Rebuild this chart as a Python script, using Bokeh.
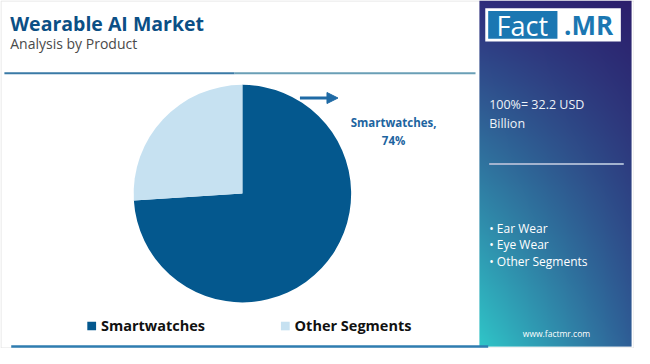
import numpy as np
from bokeh.plotting import figure
from bokeh.models import Range1d, ColumnDataSource, Arrow, NormalHead
from bokeh.core.properties import value
from bokeh.embed import file_html
from bokeh.resources import INLINE

# ---- data ----
title = "Wearable AI Market"
subtitle = "Analysis by Product"
categories = ["Smartwatches", "Other Segments"]
shares = [74, 26]
colors = ["#04588e", "#c6e1f1"]
total_text = ["100%= 32.2 USD", "Billion"]
other_items = ["Ear Wear", "Eye Wear", "Other Segments"]
site = "www.factmr.com"

W, H = 650, 364
def Y(y):
    return H - y

p = figure(width=634, height=348, x_range=Range1d(0, W), y_range=Range1d(0, H),
           output_backend="svg", toolbar_location=None, min_border=0)
p.axis.visible = False
p.grid.visible = False
p.outline_line_color = None
p.background_fill_color = "white"
p.border_fill_color = "white"

FONT = value("Open Sans")

# faint frame
p.quad(left=[0.5], right=[649.5], bottom=[Y(363.5)], top=[Y(0.5)],
       fill_color=None, line_color="#e2e2e2", line_width=1)

# ---- right gradient panel ----
px0, px1, py0, py1 = 491, 647, 0, 362
pw, ph = 160, 360
def hex2rgb(h):
    h = h.lstrip("#")
    return np.array([int(h[i:i + 2], 16) for i in (0, 2, 4)], dtype=float)
TL, TR = hex2rgb("#2f2d7c"), hex2rgb("#2c1f6c")
BL, BR = hex2rgb("#30c6c8"), hex2rgb("#2f5e96")
u = np.linspace(0, 1, pw)[None, :, None]
v = np.linspace(0, 1, ph)[:, None, None]  # 0 = bottom
bottom = BL * (1 - u) + BR * u
top = TL * (1 - u) + TR * u
rgb = bottom * (1 - v) + top * v
img = np.zeros((ph, pw), dtype=np.uint32)
view = img.view(dtype=np.uint8).reshape((ph, pw, 4))
view[:, :, 0] = rgb[:, :, 0].astype(np.uint8)
view[:, :, 1] = rgb[:, :, 1].astype(np.uint8)
view[:, :, 2] = rgb[:, :, 2].astype(np.uint8)
view[:, :, 3] = 255
p.image_rgba(image=[img], x=px0, y=Y(py1), dw=px1 - px0, dh=py1 - py0)

# logo
p.quad(left=[497], right=[636], top=[Y(8)], bottom=[Y(43)], fill_color="white", line_color=None)
p.quad(left=[500], right=[571], top=[Y(11)], bottom=[Y(40)], fill_color="#1b77b2", line_color=None)
p.text(x=[535], y=[Y(26)], text=["Fact"], text_color="white", text_font=FONT,
       text_font_size="27px", text_align="center", text_baseline="middle")
p.text(x=[603], y=[Y(26)], text=[".MR"], text_color="#1b77b2", text_font=FONT,
       text_font_size="26px", text_font_style="bold", text_align="center", text_baseline="middle")

# panel texts
p.text(x=[501, 501], y=[Y(109), Y(129)], text=total_text, text_color="#eef3f8",
       text_font=FONT, text_font_size="12.5px", text_baseline="middle")
p.line(x=[501, 639], y=[Y(171), Y(171)], line_color="#a3b3cf", line_width=2)
p.text(x=[501] * len(other_items), y=[Y(238), Y(255), Y(272.5)],
       text=["\u2022 " + s for s in other_items], text_color="white",
       text_font=FONT, text_font_size="12px", text_baseline="middle")
p.text(x=[570], y=[Y(348)], text=[site], text_color="white", text_font=FONT,
       text_font_size="8.5px", text_align="center", text_baseline="middle")

# ---- title area ----
p.text(x=[10], y=[Y(24)], text=[title], text_color="#0b4f85", text_font=FONT,
       text_font_size="19.5px", text_font_style="bold", text_baseline="middle")
p.text(x=[10], y=[Y(45)], text=[subtitle], text_color="#4a4a4a", text_font=FONT,
       text_font_size="14px", text_baseline="middle")
p.line(x=[4, 240], y=[Y(76)] * 2, line_color="#3a7aa6", line_width=2)
p.line(x=[240, 487], y=[Y(76)] * 2, line_color="#6a9fb6", line_width=2)

# ---- pie ----
frac = np.array(shares, dtype=float) / sum(shares)
cum = np.concatenate([[0], np.cumsum(frac)])
start = np.pi / 2 - cum[1:] * 2 * np.pi
end = np.pi / 2 - cum[:-1] * 2 * np.pi
src = ColumnDataSource(dict(cat=categories, share=shares, start=start, end=end, color=colors))
p.wedge(x=248, y=Y(202), radius=111.5, start_angle="start", end_angle="end",
        fill_color="color", line_color=None, source=src)

# label + arrow
p.add_layout(Arrow(end=NormalHead(size=11, fill_color="#1f6aa5", line_color="#1f6aa5"),
                   x_start=307, y_start=Y(102), x_end=346, y_end=Y(102),
                   line_color="#1f6aa5", line_width=3))
p.text(x=[403, 403], y=[Y(128), Y(146)], text=[categories[0] + ",", f"{shares[0]}%"],
       text_color="#1d64a0", text_font=FONT, text_font_size="11.5px",
       text_font_style="bold", text_align="center", text_baseline="middle")

# legend
lx = [89, 287.5]
p.quad(left=lx, right=[x + 9 for x in lx], top=[Y(336)] * 2, bottom=[Y(345)] * 2,
       fill_color=colors, line_color=None)
p.text(x=[x + 14 for x in lx], y=[Y(340)] * 2, text=categories, text_color="#111111",
       text_font=FONT, text_font_size="14.5px", text_font_style="bold", text_baseline="middle")

# bottom line
p.line(x=[11, 500], y=[Y(362), Y(362)], line_color="#2f7db0", line_width=2.5)

open("out.html", "w").write(file_html(p, INLINE))
